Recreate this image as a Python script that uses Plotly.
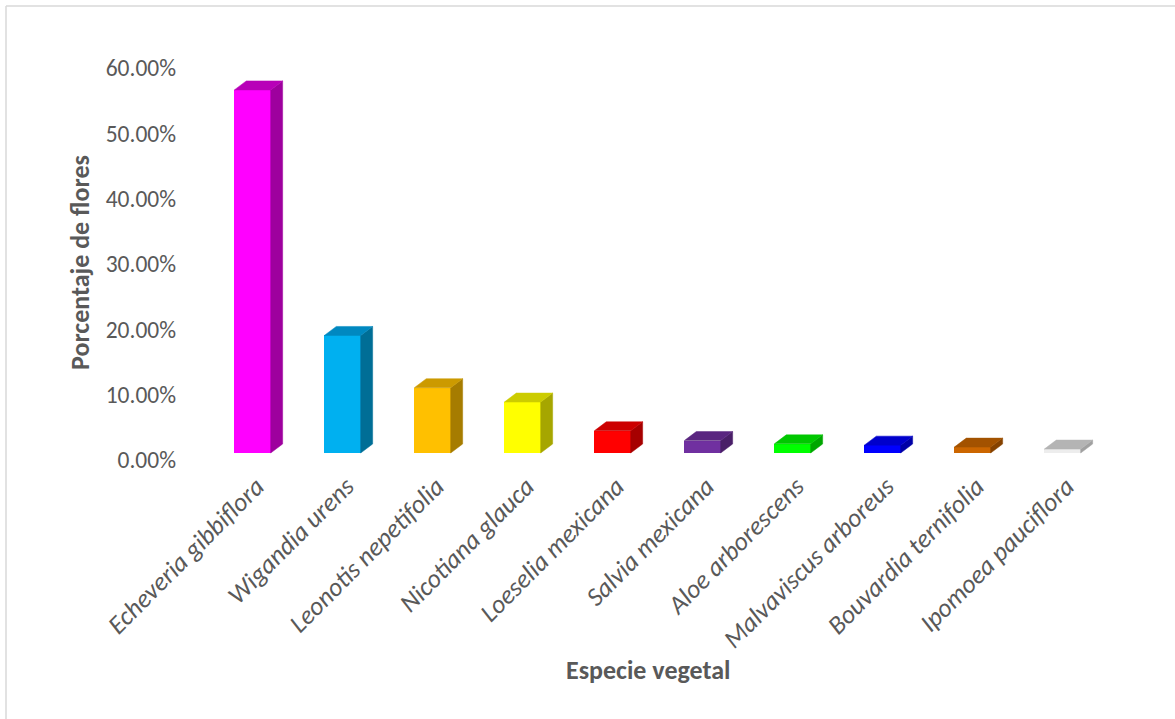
import plotly.graph_objects as go

# ---- data ----
species = ["Echeveria gibbiflora", "Wigandia urens", "Leonotis nepetifolia",
           "Nicotiana glauca", "Loeselia mexicana", "Salvia mexicana",
           "Aloe arborescens", "Malvaviscus arboreus", "Bouvardia ternifolia",
           "Ipomoea pauciflora"]
percent = [55.6, 18.0, 10.0, 7.8, 3.4, 1.9, 1.4, 1.2, 0.9, 0.6]
y_ticks = [0, 10, 20, 30, 40, 50, 60]

# ---- style ----
front_col = ["#FF00FF", "#00B0F0", "#FFC000", "#FFFF00", "#FF0000",
             "#7030A0", "#00FF00", "#0000FF", "#CC6600", "#EDEDED"]
top_col = ["#B800B8", "#0088C0", "#CC9A00", "#CCCC00", "#CC0000",
           "#5A2680", "#00C800", "#0000CC", "#A35200", "#B4B4B4"]
side_col = ["#9E009E", "#006E96", "#A67C00", "#A6A600", "#A60000",
            "#4A1F68", "#00A600", "#0000A6", "#854200", "#A0A0A0"]

FONT = "Carlito, Calibri, Lato, sans-serif"
GREY = "#595959"
W = 0.404      # bar width (category units)
DX = 0.133     # depth offset x (category units)
DY = 1.38      # depth offset y (percent units)
TICK_SHIFT = 1.07  # floor front edge sits below bar fronts

# plot area geometry in px
L, R, T, B = 185, 1130, 60, 470
x_range = [-0.75, 9.75]
y_range = [-(B - 453) / 6.53, (453 - T) / 6.53]

xs = list(range(len(species)))
fig = go.Figure()

for i, v in enumerate(percent):
    x0, x1 = xs[i] - W / 2, xs[i] + W / 2
    # side face
    fig.add_trace(go.Scatter(
        x=[x1, x1 + DX, x1 + DX, x1, x1], y=[0, DY, v + DY, v, 0],
        fill="toself", fillcolor=side_col[i], mode="lines",
        line=dict(width=0.5, color=side_col[i]), hoverinfo="skip", showlegend=False))
    # top face
    fig.add_trace(go.Scatter(
        x=[x0, x1, x1 + DX, x0 + DX, x0], y=[v, v, v + DY, v + DY, v],
        fill="toself", fillcolor=top_col[i], mode="lines",
        line=dict(width=0.5, color=top_col[i]), hoverinfo="skip", showlegend=False))

fig.add_trace(go.Bar(
    x=xs, y=percent, width=W, marker=dict(color=front_col, line=dict(width=0)),
    hovertemplate="%{text}: %{y:.2f}%<extra></extra>", text=species,
    textposition="none", showlegend=False))

W_PX, H_PX = 1175, 719
fig.update_layout(
    width=W_PX, height=H_PX,
    margin=dict(l=L, r=W_PX - R, t=T, b=H_PX - B, autoexpand=False),
    paper_bgcolor="white", plot_bgcolor="white",
    font=dict(family=FONT, color=GREY),
    xaxis=dict(range=x_range, tickmode="array", tickvals=xs, ticktext=species,
               tickangle=-45, tickfont=dict(size=26, style="italic", color=GREY),
               ticklabelshift=4, ticklabelstandoff=-5,
               showgrid=False, zeroline=False, showline=False, ticks=""),
    yaxis=dict(range=y_range, tickmode="array",
               tickvals=[t - TICK_SHIFT for t in y_ticks],
               ticktext=[f"{t:.2f}%" for t in y_ticks],
               tickfont=dict(size=23.5, color=GREY),
               showgrid=False, zeroline=False, showline=False, ticks="",
               ticklabelstandoff=8),
    bargap=0,
)

def px_x(p):
    return (p - L) / (R - L)

def px_y(p):
    return (B - p) / (B - T)

fig.add_annotation(text="<b>Porcentaje de flores</b>", xref="paper", yref="paper",
                   x=px_x(80), y=px_y(263), xanchor="center", yanchor="middle",
                   textangle=-90, showarrow=False,
                   font=dict(size=26, color=GREY, family=FONT))
fig.add_annotation(text="<b>Especie vegetal</b>", xref="paper", yref="paper",
                   x=px_x(648), y=px_y(670), xanchor="center", yanchor="middle",
                   showarrow=False,
                   font=dict(size=26, color=GREY, family=FONT))

# chart border (top and left visible)
fig.add_shape(type="line", xref="paper", yref="paper",
              x0=px_x(6), x1=px_x(1180), y0=px_y(6), y1=px_y(6),
              line=dict(color="#D9D9D9", width=1.5))
fig.add_shape(type="line", xref="paper", yref="paper",
              x0=px_x(6), x1=px_x(6), y0=px_y(6), y1=px_y(725),
              line=dict(color="#D9D9D9", width=1.5))

fig.write_html("out.html")
